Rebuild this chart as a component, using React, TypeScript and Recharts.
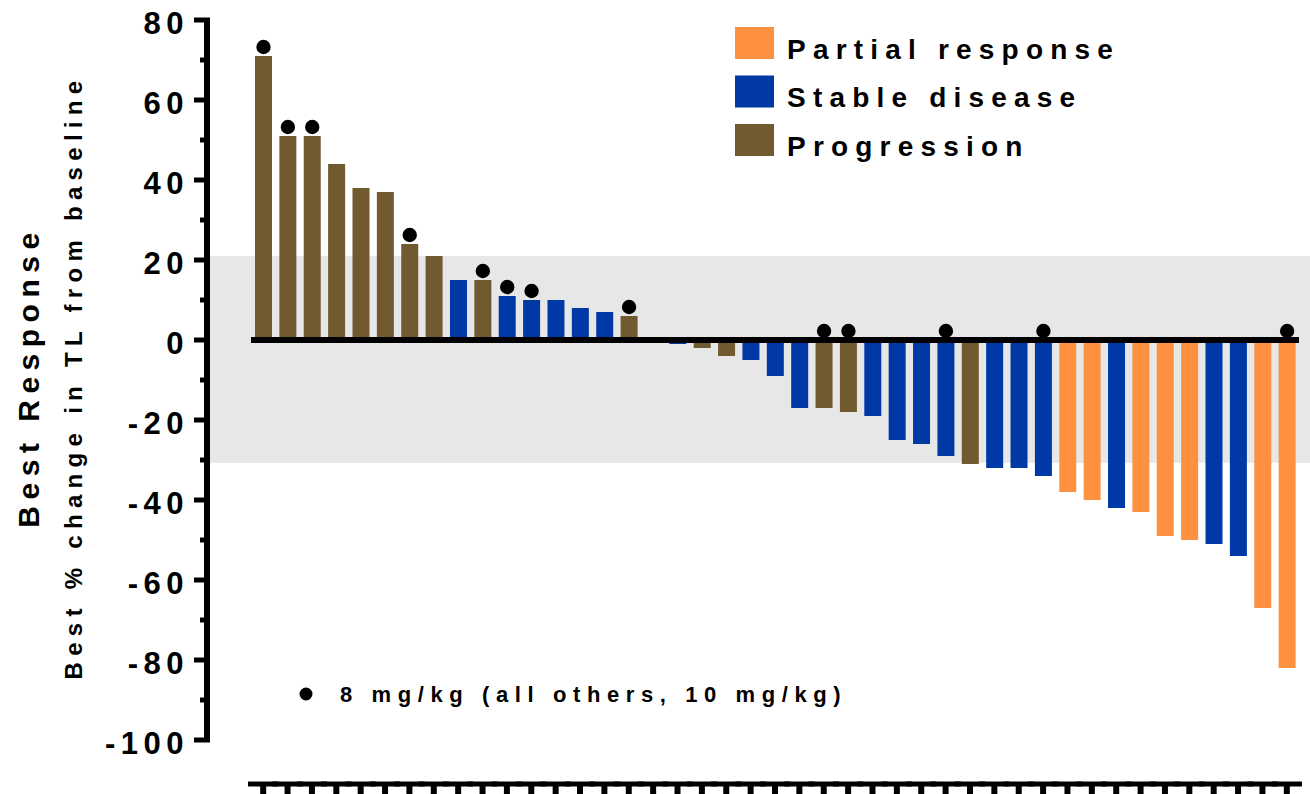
import React from 'react';
import { BarChart, Bar, Cell, XAxis, YAxis, ReferenceArea, ReferenceLine, LabelList } from 'recharts';

// one entry per patient, sorted by best response
const patientIds = [
  1, 2, 3, 4, 5, 6, 7, 8, 9, 10, 11, 12, 13, 14, 15, 16, 17, 18, 19, 20, 21, 22,
  23, 24, 25, 26, 27, 28, 29, 30, 31, 32, 33, 34, 35, 36, 37, 38, 39, 40, 41, 42, 43,
];
const bestChange = [
  71, 51, 51, 44, 38, 37, 24, 21, 15, 15, 11, 10, 10, 8, 7, 6, 0, -1, -2, -4, -5, -9,
  -17, -17, -18, -19, -25, -26, -29, -31, -32, -32, -34, -38, -40, -42, -43, -49, -50, -51, -54, -67, -82,
];
const response = [
  'PD', 'PD', 'PD', 'PD', 'PD', 'PD', 'PD', 'PD', 'SD', 'PD', 'SD', 'SD', 'SD', 'SD', 'SD', 'PD', 'SD', 'SD', 'PD', 'PD', 'SD', 'SD',
  'SD', 'PD', 'PD', 'SD', 'SD', 'SD', 'SD', 'PD', 'SD', 'SD', 'SD', 'PR', 'PR', 'SD', 'PR', 'PR', 'PR', 'SD', 'SD', 'PR', 'PR',
];
// 1 = 8 mg/kg dose (black dot)
const dose8 = [
  1, 1, 1, 0, 0, 0, 1, 0, 0, 1, 1, 1, 0, 0, 0, 1, 0, 0, 0, 0, 0, 0,
  0, 1, 1, 0, 0, 0, 1, 0, 0, 0, 1, 0, 0, 0, 0, 0, 0, 0, 0, 0, 1,
];

const yTicks = [-100, -90, -80, -70, -60, -50, -40, -30, -20, -10, 0, 10, 20, 30, 40, 50, 60, 70, 80];
const bandLow = -30.7;
const bandHigh = 21;

const COLORS: Record<string, string> = { PR: '#fd9140', SD: '#0039a6', PD: '#725a30' };
const legendItems = [
  { key: 'PR', label: 'Partial response' },
  { key: 'SD', label: 'Stable disease' },
  { key: 'PD', label: 'Progression' },
];
const doseNote = '8 mg/kg (all others, 10 mg/kg)';

const FONT = '"Liberation Sans", Arial, Helvetica, sans-serif';
const WIDTH = 1310;
const HEIGHT = 794;
const Y_AXIS_W = 207;

const data = patientIds.map((id, i) => ({
  id,
  change: bestChange[i],
  resp: response[i],
  dose: dose8[i],
}));

const YTick = ({ x, y, payload }: any) => {
  const major = payload.value % 20 === 0;
  return (
    <g>
      <line x1={major ? x - 13 : x - 7} x2={x + 3} y1={y} y2={y} stroke="#000" strokeWidth={5} />
      {major && (
        <text
          x={x - 18}
          y={y + 14}
          textAnchor="end"
          fontFamily={FONT}
          fontWeight="bold"
          fontSize={31}
          letterSpacing={5.5}
          fill="#000"
        >
          {payload.value}
        </text>
      )}
    </g>
  );
};

const XTick = ({ x, y, payload }: any) => {
  const half = payload && payload.offset ? payload.offset : 12.2;
  const axisY = y + 44;
  return (
    <g>
      <line x1={x - half - 3} x2={x + half + 3} y1={axisY} y2={axisY} stroke="#000" strokeWidth={5} />
      <line x1={x} x2={x} y1={axisY} y2={axisY + 16} stroke="#000" strokeWidth={6} />
    </g>
  );
};

const YLabels = (props: any) => {
  const vb = props.viewBox || { y: 20, height: 720 };
  const cy = vb.y + vb.height / 2 - 3;
  return (
    <g>
      <text
        transform={`translate(39, ${cy}) rotate(-90)`}
        textAnchor="middle"
        fontFamily={FONT}
        fontWeight="bold"
        fontSize={30}
        letterSpacing={6.5}
        fill="#000"
      >
        Best Response
      </text>
      <text
        transform={`translate(82, ${cy}) rotate(-90)`}
        textAnchor="middle"
        fontFamily={FONT}
        fontWeight="bold"
        fontSize={24}
        letterSpacing={6.3}
        fill="#000"
      >
        Best % change in TL from baseline
      </text>
    </g>
  );
};

// grey band covers the whole plot width, including the axis padding
const Band = (props: any) => (
  <rect x={Y_AXIS_W} y={props.y} width={WIDTH - Y_AXIS_W} height={props.height} fill="#e7e7e7" />
);

// zero line spans from the first band's left edge to the last band's right edge
const ZeroLine = (props: any) => {
  const { x1, x2, y1 } = props;
  const half = (x2 - x1) / (patientIds.length - 1) / 2;
  return <line x1={x1 - half} x2={x2 + half} y1={y1} y2={y1} stroke="#000" strokeWidth={6} />;
};

const DoseDot = (props: any) => {
  const { value } = props;
  if (!value) return null;
  const vb = props.viewBox || props;
  const { x, y, width, height } = vb;
  const top = Math.min(y, y + height);
  return <circle cx={x + width / 2} cy={top - 9} r={7.2} fill="#000" />;
};

export default function App() {
  return (
    <div style={{ position: 'absolute', left: 0, top: 0, width: WIDTH, height: HEIGHT, background: '#fff' }}>
      <BarChart
        width={WIDTH}
        height={HEIGHT}
        data={data}
        margin={{ top: 20, right: 0, bottom: 0, left: 0 }}
        barSize={17}
      >
        <ReferenceArea y1={bandLow} y2={bandHigh} fill="#e7e7e7" fillOpacity={1} stroke="none" shape={Band} />
        <XAxis
          dataKey="id"
          type="category"
          height={54}
          axisLine={false}
          tickLine={false}
          tickSize={0}
          tickMargin={0}
          interval={0}
          padding={{ left: 44, right: 11 }}
          tick={<XTick />}
        />
        <YAxis
          type="number"
          domain={[-100, 80]}
          ticks={yTicks}
          interval={0}
          width={Y_AXIS_W}
          axisLine={{ stroke: '#000', strokeWidth: 6 }}
          tickLine={false}
          tickSize={0}
          tickMargin={0}
          tick={<YTick />}
          label={{ content: (p: any) => <YLabels {...p} /> }}
        />
        <Bar dataKey="change" isAnimationActive={false}>
          {data.map((d, i) => (
            <Cell key={`cell-${i}`} fill={COLORS[d.resp]} />
          ))}
          <LabelList dataKey="dose" content={DoseDot} />
        </Bar>
        <ReferenceLine
          segment={[
            { x: patientIds[0], y: 0 },
            { x: patientIds[patientIds.length - 1], y: 0 },
          ]}
          shape={ZeroLine}
        />
      </BarChart>

      <svg
        width={WIDTH}
        height={HEIGHT}
        style={{ position: 'absolute', left: 0, top: 0, pointerEvents: 'none' }}
      >
        {legendItems.map((item, i) => (
          <g key={item.key}>
            <rect x={735} y={27 + i * 48.5} width={39} height={32} fill={COLORS[item.key]} />
            <text
              x={787}
              y={58.5 + i * 48.7}
              fontFamily={FONT}
              fontWeight="bold"
              fontSize={28}
              letterSpacing={7.2}
              fill="#000"
            >
              {item.label}
            </text>
          </g>
        ))}
        <circle cx={306} cy={694} r={6.5} fill="#000" />
        <text
          x={340}
          y={702}
          fontFamily={FONT}
          fontWeight="bold"
          fontSize={22}
          letterSpacing={6.6}
          fill="#000"
        >
          {doseNote}
        </text>
      </svg>
    </div>
  );
}
